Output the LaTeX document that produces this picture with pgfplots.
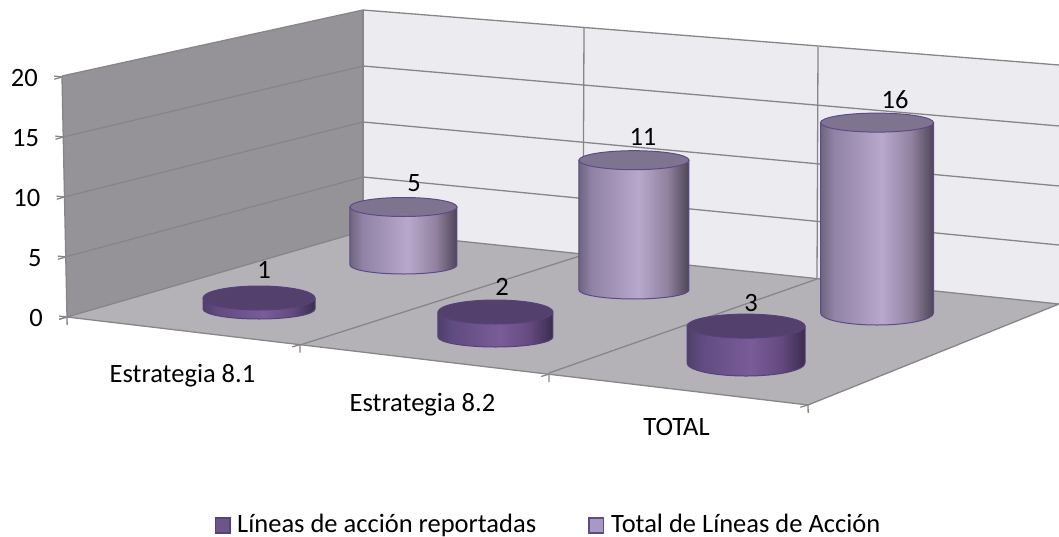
\documentclass[border=0pt]{standalone}
\usepackage{fontspec}
\setmainfont{Carlito}
\usepackage{pgfplots}
\pgfplotsset{compat=1.18}
\newcommand{\chartfont}{\fontsize{26.5}{30}\selectfont}
\definecolor{gridc}{HTML}{868686}
\definecolor{leftwall}{HTML}{959398}
\definecolor{floorc}{HTML}{B4B2B7}
\definecolor{backwall}{HTML}{ECEBF0}
\definecolor{lineF}{HTML}{55427A}
\definecolor{lineB}{HTML}{5D4A87}
\definecolor{topF}{HTML}{54406C}
\definecolor{topB}{HTML}{7F7490}
\definecolor{legF}{HTML}{6D5489}
\definecolor{legB}{HTML}{A899C2}
\definecolor{ba}{RGB}{111,101,128}
\definecolor{bb}{RGB}{145,131,165}
\definecolor{bc}{RGB}{184,168,204}
\definecolor{bd}{RGB}{146,130,160}
\definecolor{be}{RGB}{78,69,88}
\definecolor{fa}{RGB}{79,63,107}
\definecolor{fb}{RGB}{96,75,128}
\definecolor{fc}{RGB}{122,92,152}
\definecolor{fd}{RGB}{100,73,127}
\definecolor{fe}{RGB}{58,45,77}
\pgfdeclarehorizontalshading{cylBack}{100bp}{
 color(0bp)=(ba); color(25bp)=(ba);
 color(31bp)=(bb);
 color(52bp)=(bc);
 color(65bp)=(bd);
 color(75bp)=(be); color(100bp)=(be)}
\pgfdeclarehorizontalshading{cylFront}{100bp}{
 color(0bp)=(fa); color(25bp)=(fa);
 color(31bp)=(fb);
 color(52bp)=(fc);
 color(65bp)=(fd);
 color(75bp)=(fe); color(100bp)=(fe)}
\pgfdeclareplotmark{nothing}{}
% #1 x, #2 y (place on the floor), #3 value; #4 rx, #5 r top, #6 r bottom, #7 px per unit;
% #8,#9 label offset from the base; #10 shading, #11 line colour, #12 top colour
\newcommand{\cyl}[9]{\def\cylA{#1}\def\cylB{#2}\def\cylC{#3}\def\cylD{#4}\def\cylE{#5}%
  \def\cylF{#6}\def\cylG{#7}\def\cylH{#8}\def\cylI{#9}\cylrest}
\newcommand{\cylrest}[3]{%
 \edef\temp{\noexpand\addplot3[forget plot, scatter, only marks, mark=nothing,
   point meta min=0, point meta max=20,
   scatter/@pre marker code/.code={\noexpand\cyldraw{\cylC}{\cylD}{\cylE}{\cylF}{\cylG}{\cylH}{\cylI}{#1}{#2}{#3}},
   scatter/@post marker code/.code={}]
   coordinates {(\cylA,\cylB,\cylC)};}\temp}
\newcommand{\cyldraw}[9]{\def\cdA{#1}\def\cdB{#2}\def\cdC{#3}\def\cdD{#4}\def\cdE{#5}\def\cdF{#6}\def\cdG{#7}\def\cdH{#8}\def\cdI{#9}\cyldrawb}
\newcommand{\cyldrawb}[1]{%
   \pgfmathsetmacro\cbx{\cdA*0.25}%
   \pgfmathsetmacro\cby{-\cdA*12}%
   \pgfmathsetmacro\ctop{\cby+\cdA*\cdE}%
   \pgfmathsetmacro\cl{\cbx-\cdB}%
   \pgfmathsetmacro\cri{\cbx+\cdB}%
   \pgfmathsetmacro\clabx{\cbx+\cdF}%
   \pgfmathsetmacro\claby{\cby+\cdG}%
   \begin{scope}[x=1pt,y=1pt]
    \path[shading=\cdH,draw=\cdI,line width=1pt]
      (\cl,\cby) -- (\cl,\ctop) -- (\cri,\ctop) -- (\cri,\cby)
      arc[start angle=0,end angle=-180,x radius=\cdB,y radius=\cdD] -- cycle;
    \draw[fill=#1,draw=\cdI,line width=1pt] (\cbx,\ctop) ellipse[x radius=\cdB,y radius=\cdC];
    \node[text=black,font=\chartfont,inner sep=0pt,anchor=center] at (\clabx,\claby) {\cdA};
   \end{scope}}
\begin{document}
\begin{tikzpicture}[x=1pt,y=-1pt]
\useasboundingbox (0,0) rectangle (1059,537);
% walls and floor
\fill[leftwall] (62,76) -- (363,10) -- (363,231) -- (67,317) -- cycle;
\fill[backwall] (363,10) -- (1059,65) -- (1059,304) -- (363,231) -- cycle;
\fill[floorc] (67,317) -- (363,231) -- (1059,304) -- (808,405) -- cycle;
\begin{scope}[draw=gridc,line width=1.3pt]
 \draw (62,76) -- (363,10) -- (1059,65);
 \draw (363,10) -- (363,231);
 \draw (584,28) -- (583,255);
 \draw (818,47) -- (817,278);
 \draw (63,137) -- (363,66) -- (1059,126);
 \draw (64,197) -- (363,122) -- (1059,186);
 \draw (65,257) -- (363,177) -- (1059,245);
 \draw (67,317) -- (363,231) -- (1059,304) -- (808,405);
 \draw (300,345) -- (583,255);
 \draw (549,373) -- (817,279);
\end{scope}
\begin{axis}[
  at={(67pt,-317pt)}, anchor=origin,
  x={(247pt,-29.33pt)}, y={(296pt,86pt)}, z={(-0.25pt,12pt)},
  xmin=0,xmax=3,ymin=0,ymax=1,zmin=0,zmax=20,
  clip=false,
  axis lines=left,
  axis y line=none,
  axis line style={-,draw=gridc,line width=1.3pt},
  tick style={draw=gridc,line width=1.3pt},
  tick align=outside,
  major tick length=8pt,
  ytick=\empty,
  ztick={0,5,10,15,20},
  xtick={0,0.943,1.951,3},
  xticklabels={},
  extra x ticks={0.4676,1.439,2.4676},
  extra x tick labels={Estrategia 8.1,Estrategia 8.2,\raisebox{6pt}{TOTAL}},
  extra x tick style={major tick length=0pt},
  tick label style={font=\chartfont},
  /pgf/number format/assume math mode=true,
  xticklabel style={anchor=center,text height=18pt,text depth=6pt,yshift=-46pt},
  zticklabel style={anchor=east,xshift=-13pt,yshift=1pt},
]
% Total de Líneas de Acción
\cyl{0.4527}{0.7590}{5}{53.5}{9.5}{9}{11.6}{10.5}{82}{cylBack}{lineB}{topB}
\cyl{1.3624}{0.7786}{11}{55}{9.5}{9}{11.8}{9}{153}{cylBack}{lineB}{topB}
\cyl{2.2884}{0.8269}{16}{56.5}{9.5}{12}{11.9}{18}{213}{cylBack}{lineB}{topB}
% Líneas de acción reportadas
\cyl{0.4727}{0.2542}{1}{56}{12}{10}{11}{5}{39}{cylFront}{lineF}{topF}
\cyl{1.4293}{0.2549}{2}{57.5}{12}{10}{12.5}{6.5}{50}{cylFront}{lineF}{topF}
\cyl{2.4065}{0.2858}{3}{59}{12}{13}{12.3}{5}{60}{cylFront}{lineF}{topF}
\end{axis}
% legend
\draw[fill=legF,draw=lineF,line width=1.2pt] (215.5,518) rectangle (230,533);
\node[anchor=base west,font=\chartfont,inner sep=0pt] at (237,532) {Líneas de acción reportadas};
\draw[fill=legB,draw=lineB,line width=1.2pt] (589,518) rectangle (603.5,533);
\node[anchor=base west,font=\chartfont,inner sep=0pt] at (611,532) {Total de Líneas de Acción};
\end{tikzpicture}
\end{document}
